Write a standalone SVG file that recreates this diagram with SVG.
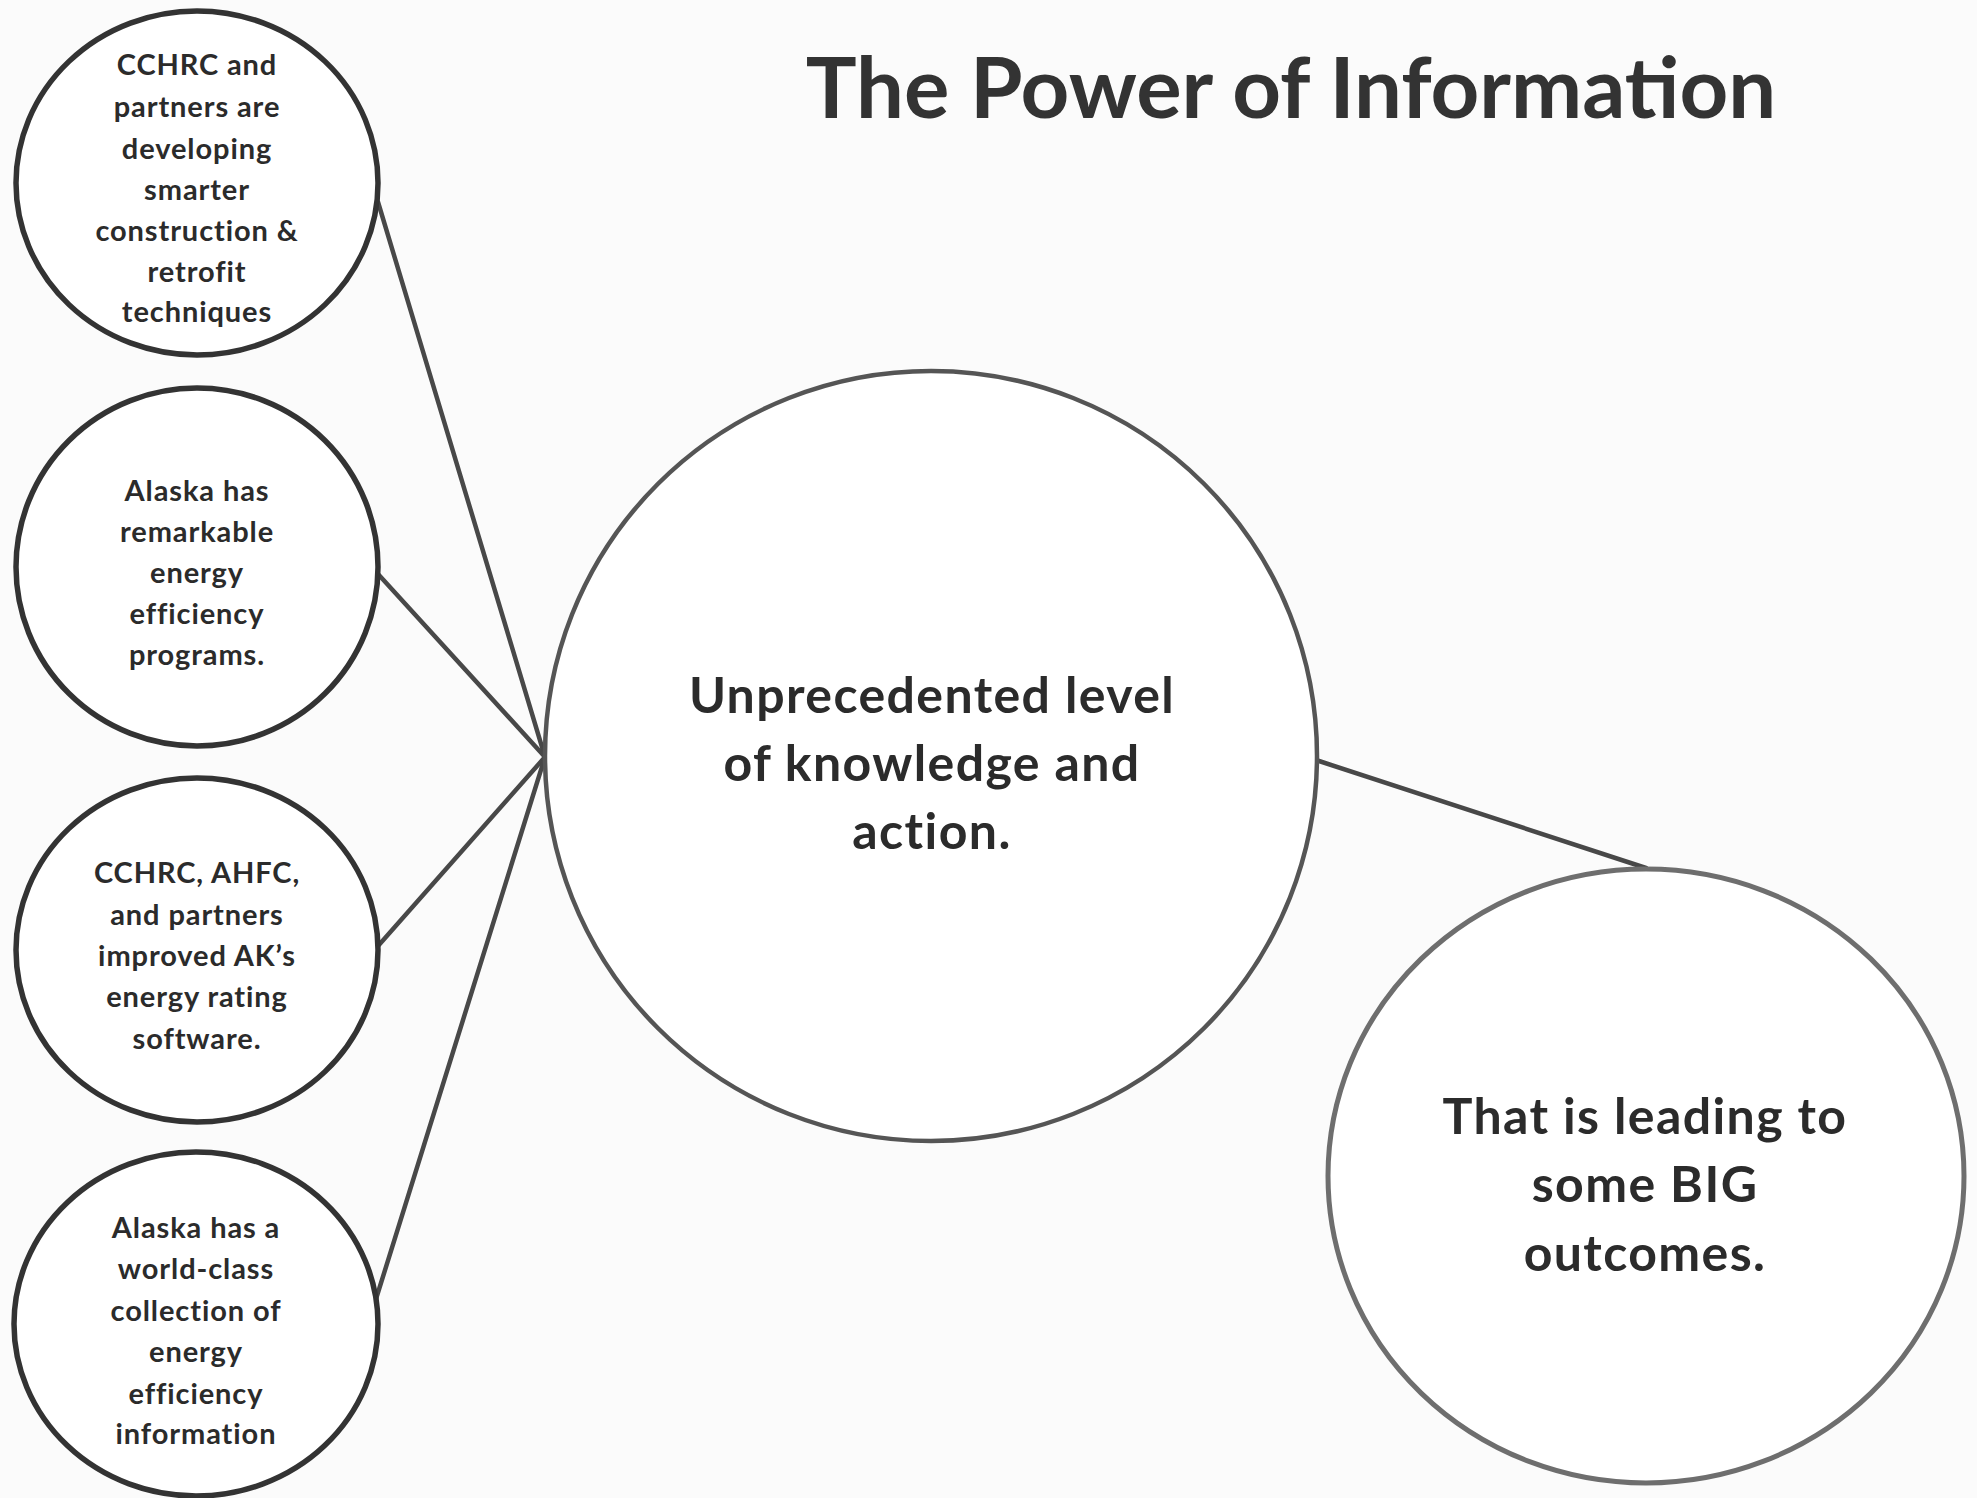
<svg xmlns="http://www.w3.org/2000/svg" width="1977" height="1498" viewBox="0 0 1977 1498">
<style>
.bg{fill:#fbfbfb}
.small{fill:#ffffff;stroke:#333333;stroke-width:5.5}
.mid{fill:#ffffff;stroke:#555555;stroke-width:4.5}
.out{fill:#ffffff;stroke:#6e6e6e;stroke-width:5}
.conn{stroke:#484848;stroke-width:4.5;fill:none;stroke-linecap:round}
text{font-family:Lato,"Open Sans","Liberation Sans",sans-serif;font-weight:700;fill:#2b2b2b;text-anchor:middle;dominant-baseline:central}
.t1{font-size:29px;letter-spacing:0.9px}
.t2{font-size:50px;letter-spacing:1.4px}
.title{font-size:85px;fill:#333333}
</style>
<rect class="bg" x="0" y="0" width="1977" height="1498"/>
<text class="title" x="1291" y="85">The Power of Information</text>
<g id="connectors">
<line class="conn" x1="378" y1="202" x2="545" y2="757"/>
<line class="conn" x1="378" y1="574" x2="545" y2="757"/>
<line class="conn" x1="378" y1="946" x2="545" y2="757"/>
<line class="conn" x1="376" y1="1299" x2="545" y2="757"/>
<line class="conn" x1="1316" y1="760" x2="1646" y2="868"/>
</g>
<g id="node-construction">
<ellipse class="small" cx="197" cy="183" rx="181" ry="172"/>
<text class="t1" x="197" y="63">CCHRC and</text>
<text class="t1" x="197" y="105">partners are</text>
<text class="t1" x="197" y="147">developing</text>
<text class="t1" x="197" y="188">smarter</text>
<text class="t1" x="197" y="229">construction &amp;</text>
<text class="t1" x="197" y="270">retrofit</text>
<text class="t1" x="197" y="310">techniques</text>
</g>
<g id="node-programs">
<ellipse class="small" cx="197" cy="567" rx="181" ry="179"/>
<text class="t1" x="197" y="489">Alaska has</text>
<text class="t1" x="197" y="530">remarkable</text>
<text class="t1" x="197" y="571">energy</text>
<text class="t1" x="197" y="612">efficiency</text>
<text class="t1" x="197" y="653">programs.</text>
</g>
<g id="node-software">
<ellipse class="small" cx="197" cy="950" rx="181" ry="172"/>
<text class="t1" x="197" y="871">CCHRC, AHFC,</text>
<text class="t1" x="197" y="913">and partners</text>
<text class="t1" x="197" y="954">improved AK’s</text>
<text class="t1" x="197" y="995">energy rating</text>
<text class="t1" x="197" y="1037">software.</text>
</g>
<g id="node-collection">
<ellipse class="small" cx="196" cy="1324" rx="182" ry="172"/>
<text class="t1" x="196" y="1226">Alaska has a</text>
<text class="t1" x="196" y="1267">world-class</text>
<text class="t1" x="196" y="1309">collection of</text>
<text class="t1" x="196" y="1350">energy</text>
<text class="t1" x="196" y="1392">efficiency</text>
<text class="t1" x="196" y="1432">information</text>
</g>
<g id="node-knowledge">
<ellipse class="mid" cx="931" cy="756" rx="386" ry="385"/>
<text class="t2" x="932" y="694">Unprecedented level</text>
<text class="t2" x="932" y="762">of knowledge and</text>
<text class="t2" x="932" y="830">action.</text>
</g>
<g id="node-outcomes">
<ellipse class="out" cx="1646" cy="1176" rx="318" ry="307"/>
<text class="t2" x="1645" y="1115">That is leading to</text>
<text class="t2" x="1645" y="1183">some BIG</text>
<text class="t2" x="1645" y="1252">outcomes.</text>
</g>
</svg>
